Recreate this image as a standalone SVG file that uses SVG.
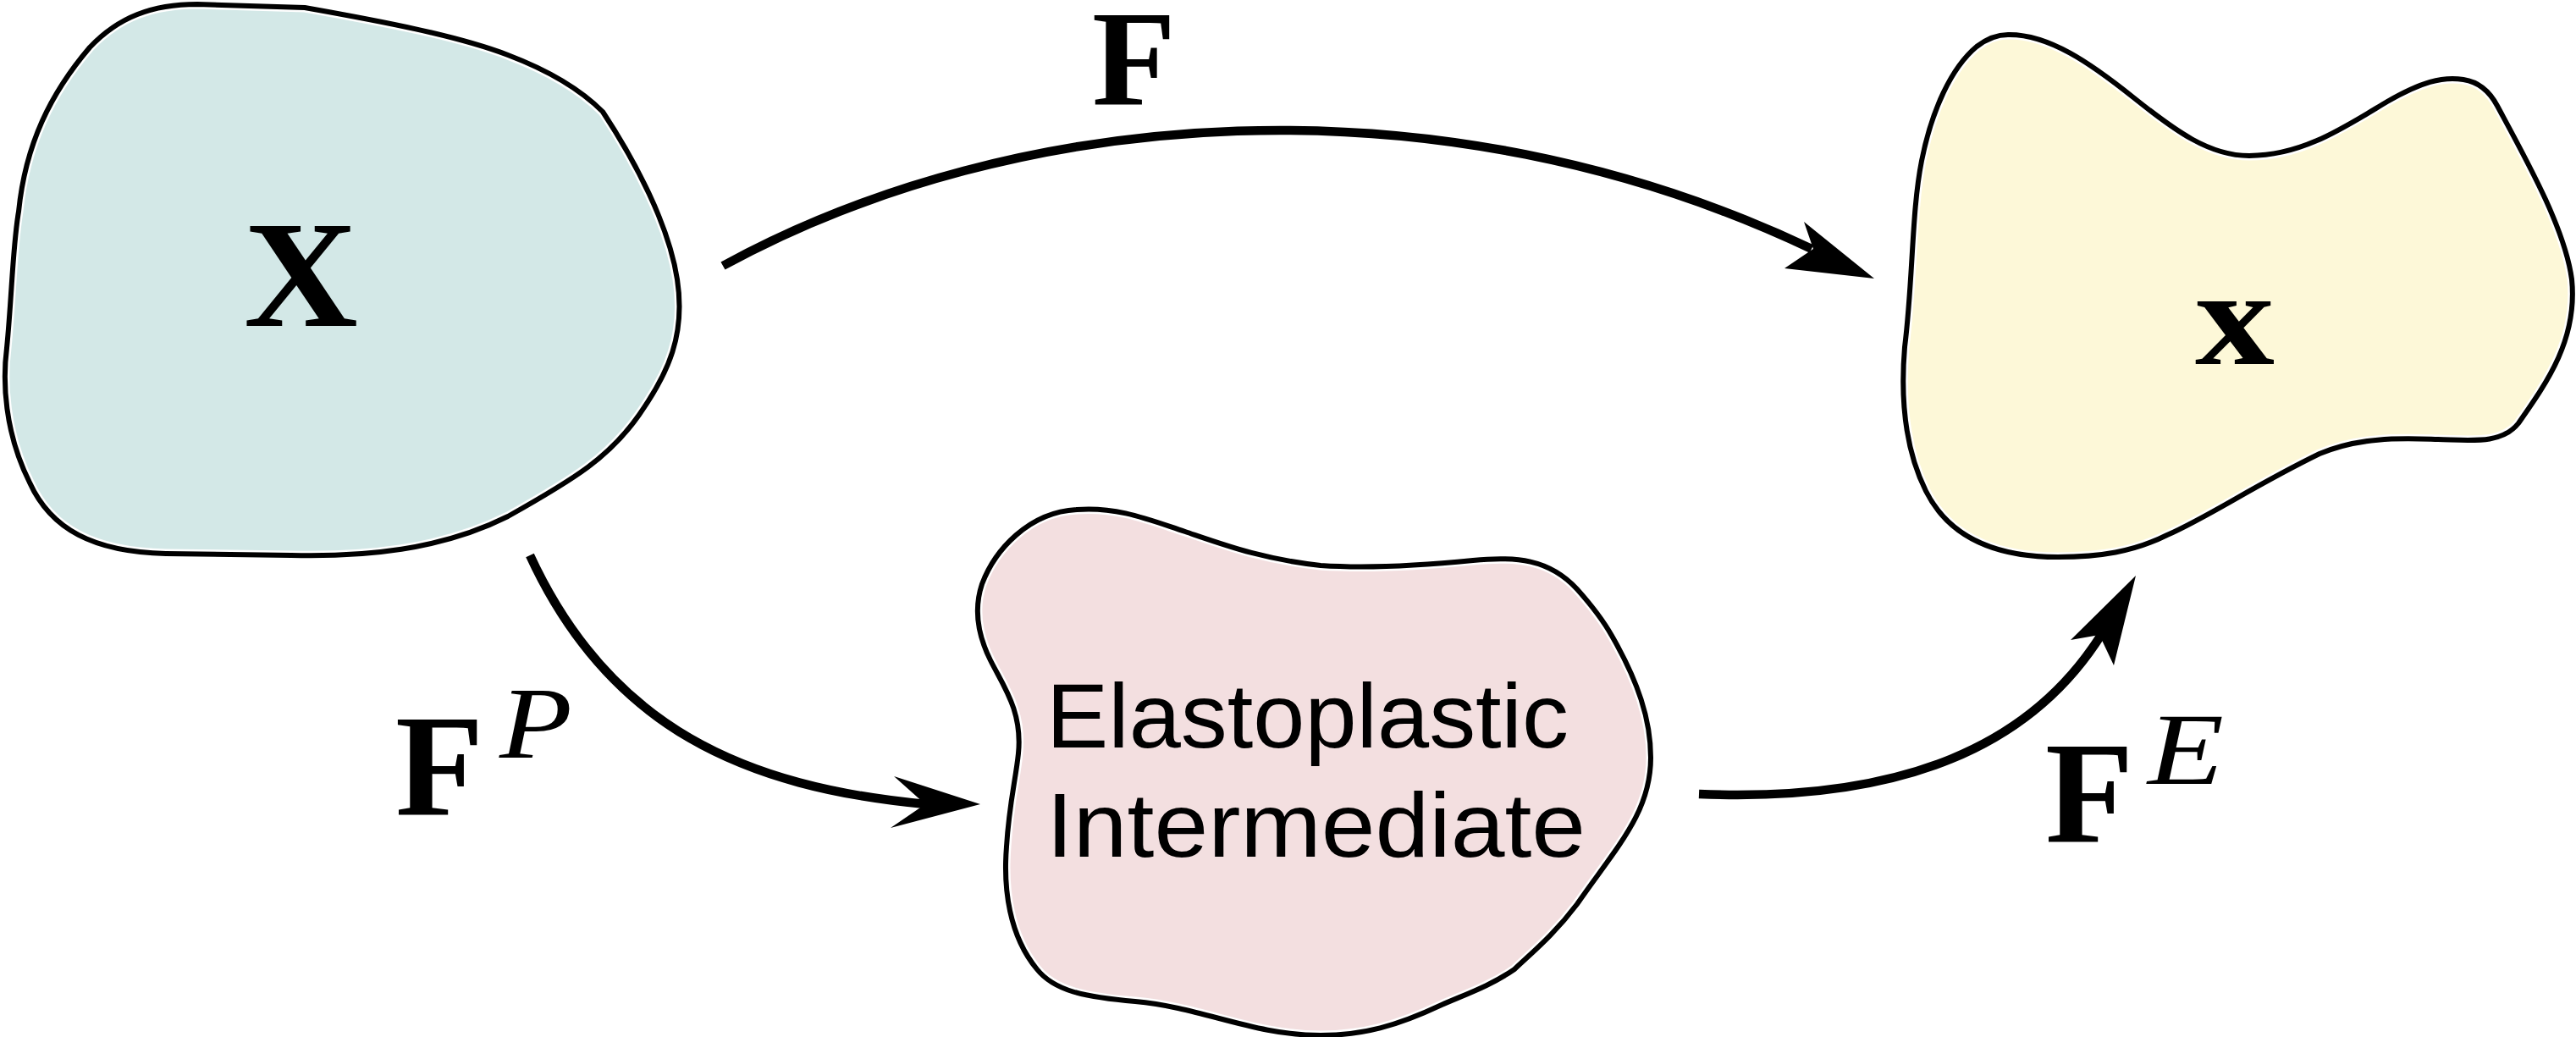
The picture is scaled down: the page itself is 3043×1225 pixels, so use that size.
<svg xmlns="http://www.w3.org/2000/svg" width="3043" height="1225" viewBox="0 0 3043 1225">
<style>
.bg{stroke:#ffffff;stroke-width:11;stroke-linejoin:round}
.ol{fill:none;stroke:#000000;stroke-width:6;stroke-linejoin:round}
.conn{fill:none;stroke:#000000;stroke-width:10.5;stroke-linecap:butt}
.head{fill:#000000;stroke:none}
.mb{font-family:"Liberation Serif","Times New Roman",serif;font-weight:bold;fill:#000}
.mi{font-family:"Liberation Serif","Times New Roman",serif;font-style:italic;fill:#000}
.lbl{font-family:"Liberation Sans",Arial,sans-serif;font-size:108px;fill:#000}
</style>
<rect x="0" y="0" width="3043" height="1225" fill="#ffffff"/>
<defs>
<path id="pX" d="M233,5 L360,9 C450,25 540,42 600,65 C650,84 685,105 712,132 C750,190 790,265 800,330 C810,395 790,440 755,490 C720,540 680,565 600,610 C520,650 430,658 344,656 L196,654 C110,652 60,625 35,570 C5,510 3,450 8,411 C14,350 15,290 22,250 C30,170 60,110 106,56 C140,20 180,5 233,5 Z"/>
<path id="px" d="M2372,41 C2420,40 2470,75 2520,115 C2570,155 2610,184 2657,184 C2720,184 2770,150 2820,120 C2860,97 2885,90 2910,94 C2930,97 2942,110 2950,125 C2985,190 3030,270 3038,330 C3045,400 3010,450 2975,500 C2955,525 2920,520 2880,519 C2840,518 2790,515 2740,536 C2660,575 2610,610 2560,632 C2520,652 2480,658 2431,658 C2350,658 2300,630 2275,580 C2250,530 2245,470 2250,410 C2260,330 2258,250 2270,190 C2282,130 2305,80 2335,55 C2348,45 2360,41 2372,41 Z"/>
<path id="pI" d="M1272,602 C1320,598 1360,615 1400,628 C1450,645 1490,660 1560,668 C1620,672 1680,668 1740,662 C1790,657 1830,660 1863,696 C1880,715 1895,735 1904,751 C1935,805 1950,850 1950,895 C1950,960 1910,1000 1863,1068 C1835,1105 1810,1125 1789,1145 C1760,1165 1730,1175 1703,1187 C1650,1212 1610,1223 1560,1223 C1480,1223 1420,1190 1341,1183 C1280,1178 1245,1170 1225,1145 C1192,1105 1185,1050 1189,1000 C1192,950 1200,920 1203,890 C1208,840 1185,810 1170,780 C1155,750 1150,720 1160,690 C1175,650 1215,605 1272,602 Z"/>
</defs>
<g id="node-reference">
<use href="#pX" class="bg" fill="#d3e8e7"/>
<use href="#pX" class="ol"/>
<text class="mb" x="288" y="385" font-size="180" textLength="135" lengthAdjust="spacingAndGlyphs">X</text>
</g>
<g id="node-current">
<use href="#px" class="bg" fill="#fdf8d8"/>
<use href="#px" class="ol"/>
<text class="mb" x="2593" y="430" font-size="160" textLength="94" lengthAdjust="spacingAndGlyphs">x</text>
</g>
<g id="node-intermediate">
<use href="#pI" class="bg" fill="#f3dfe0"/>
<use href="#pI" class="ol"/>
<text class="lbl" x="1236" y="883" textLength="617" lengthAdjust="spacingAndGlyphs">Elastoplastic</text>
<text class="lbl" x="1236" y="1012" textLength="637" lengthAdjust="spacingAndGlyphs">Intermediate</text>
</g>
<g id="connectors">
<path class="conn" d="M854,314 C1200,125 1700,85 2140,294"/>
<polygon class="head" points="2214,329 2131,262 2142,294 2108,317"/>
<path class="conn" d="M626,656 C720,860 880,930 1094,950"/>
<polygon class="head" points="1158,950 1056,917 1093,950 1052,978"/>
<path class="conn" d="M2007,938 C2250,948 2400,880 2482,750"/>
<polygon class="head" points="2523,680 2446,756 2480,750 2497,786"/>
</g>
<g id="labels">
<text class="mb" x="1290" y="124" font-size="162">F</text>
<text class="mb" x="467" y="963" font-size="171">F</text>
<text class="mi" x="590" y="895" font-size="121" textLength="86" lengthAdjust="spacingAndGlyphs">P</text>
<text class="mb" x="2416" y="995" font-size="171">F</text>
<text class="mi" x="2537" y="926" font-size="120" textLength="90" lengthAdjust="spacingAndGlyphs">E</text>
</g>
</svg>
